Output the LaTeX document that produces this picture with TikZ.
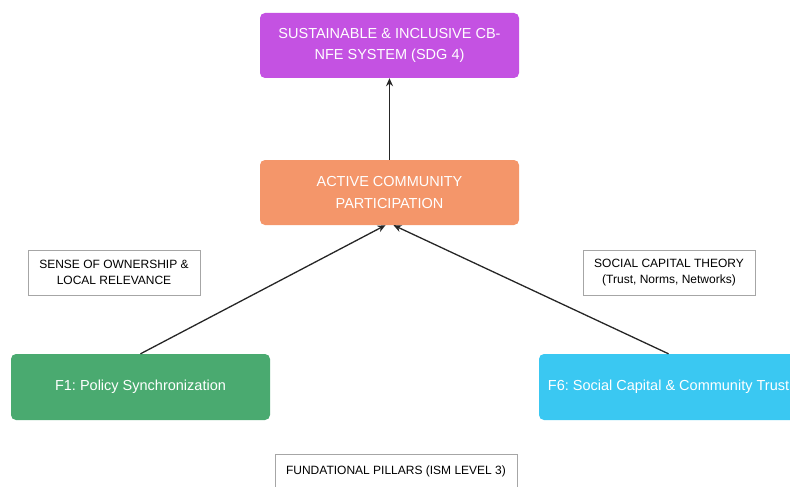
\documentclass[tikz,border=0pt]{standalone}
\usepackage{fontspec}
\setmainfont{Liberation Sans}
\usetikzlibrary{arrows.meta}
\definecolor{sdgpurple}{RGB}{196,82,226}
\definecolor{partorange}{RGB}{244,150,106}
\definecolor{polgreen}{RGB}{74,170,112}
\definecolor{trustblue}{RGB}{58,200,242}
\frenchspacing
\begin{document}
\begin{tikzpicture}[x=1pt,y=-1pt,
	box/.style={rounded corners=5pt, minimum width=259pt, minimum height=65pt, text=white, align=center, font=\fontsize{14.5}{21.5}\selectfont},
	tag/.style={draw=gray!70, line width=0.6pt, fill=white, minimum width=172pt, minimum height=45pt, align=center, font=\fontsize{12}{16.5}\selectfont},
	arr/.style={line width=1.3pt, black!85, -{Stealth[length=8pt,width=7pt]}}]
	  \useasboundingbox (0,0) rectangle (790,487);
	  \draw (389.5,45.5)node[box, fill=sdgpurple](sdg){SUSTAINABLE \& INCLUSIVE CB-\\NFE SYSTEM (SDG 4)};
	  \draw (389.5,192.5)node[box, fill=partorange](part){ACTIVE COMMUNITY\\PARTICIPATION};

	  \draw (140.5,387)node[box, fill=polgreen, minimum height=66pt](f1){F1: Policy Synchronization};
	  \draw (668.5,387)node[box, fill=trustblue, minimum height=66pt](f6){F6: Social Capital \& Community Trust};

	  \draw (114,272.5)node[tag](own){SENSE OF OWNERSHIP \&\\LOCAL RELEVANCE};
	  \draw (669,272.5)node[tag](sct){SOCIAL CAPITAL THEORY\\(Trust, Norms, Networks)};
	  \draw (396,471)node[tag, minimum width=242pt, minimum height=34pt](pil){FUNDATIONAL PILLARS (ISM LEVEL 3)};

	  \draw[arr] (part.north) -- (sdg.south);
	  \draw[arr] (f1.north) -- ([xshift=-4pt]part.south);
	  \draw[arr] (f6.north) -- ([xshift=4pt]part.south);
	\end{tikzpicture}
\end{document}
